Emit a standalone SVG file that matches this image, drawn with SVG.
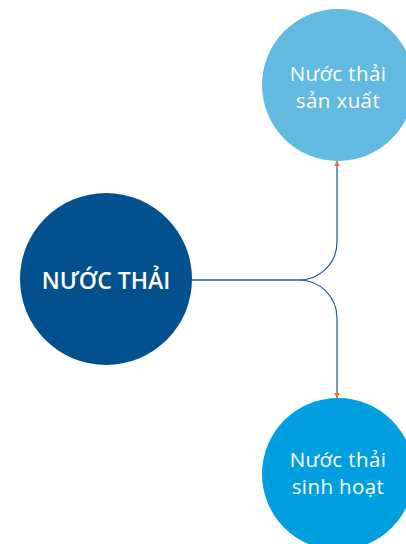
<svg xmlns="http://www.w3.org/2000/svg" width="406" height="544" viewBox="0 0 406 544">
  <style>
    .lbl { font-family: "Open Sans", "Noto Sans", sans-serif; fill: #ffffff; text-anchor: middle; }
    .sub { font-size: 20.5px; letter-spacing: 0.4px; }
    .main { font-size: 23px; font-weight: 600; }
    .conn { fill: none; stroke: #1f5a9a; stroke-width: 1.2; }
  </style>
  <defs>
    <marker id="arr" viewBox="0 0 10 10" refX="9" refY="5" markerWidth="6" markerHeight="6" orient="auto" markerUnits="userSpaceOnUse">
      <path d="M0,0 L10,5 L0,10 Z" fill="#f07030"/>
    </marker>
  </defs>
  <rect width="406" height="544" fill="#ffffff"/>
  <g id="connectors">
    <path class="conn" d="M192,280 H299 A38,38 0 0 0 337,242 V161" marker-end="url(#arr)"/>
    <path class="conn" d="M192,280 H299 A38,38 0 0 1 337,318 V398" marker-end="url(#arr)"/>
  </g>
  <g id="node-main">
    <circle cx="106" cy="279" r="86" fill="#03508f"/>
    <text class="lbl main" x="106" y="289">NƯỚC THẢI</text>
  </g>
  <g id="node-san-xuat">
    <circle cx="338" cy="85" r="76" fill="#62bae0"/>
    <text class="lbl sub" x="338" y="81">Nước thải</text>
    <text class="lbl sub" x="338" y="108">sản xuất</text>
  </g>
  <g id="node-sinh-hoat">
    <circle cx="338" cy="474" r="76" fill="#00a0e0"/>
    <text class="lbl sub" x="338" y="467">Nước thải</text>
    <text class="lbl sub" x="338" y="494">sinh hoạt</text>
  </g>
</svg>
